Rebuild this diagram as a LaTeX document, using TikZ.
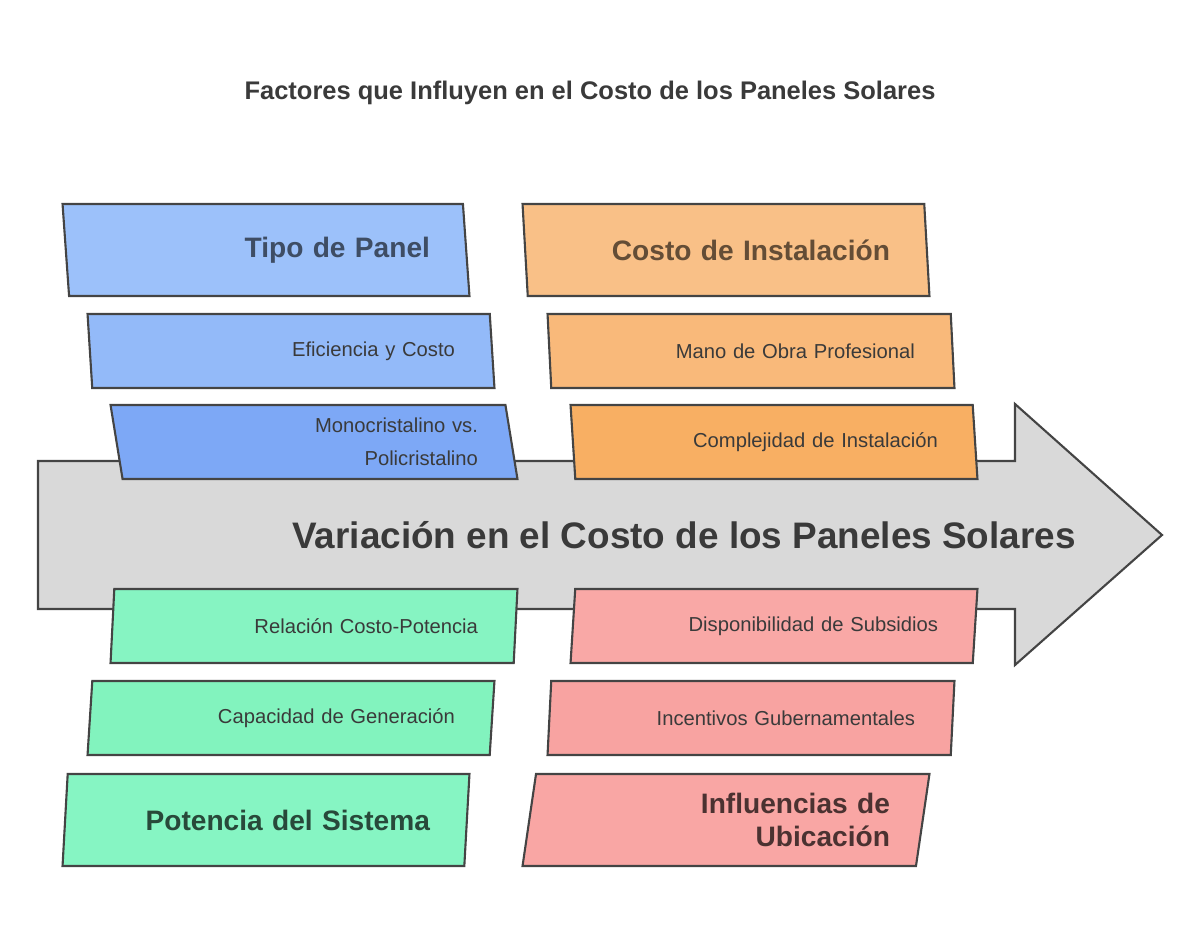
\documentclass[tikz,border=0pt]{standalone}
\usepackage{fontspec}
\setmainfont{Liberation Sans}
\usetikzlibrary{shapes.geometric, positioning}
\definecolor{BlueA}{HTML}{9CC1FA}
\definecolor{BlueB}{HTML}{93BAF9}
\definecolor{BlueC}{HTML}{7DA8F6}
\definecolor{OrangeA}{HTML}{F9C087}
\definecolor{OrangeB}{HTML}{F9B97A}
\definecolor{OrangeC}{HTML}{F8AF63}
\definecolor{GreenA}{HTML}{86F4C2}
\definecolor{GreenB}{HTML}{82F3BE}
\definecolor{GreenC}{HTML}{86F5C3}
\definecolor{RedA}{HTML}{F9A8A6}
\definecolor{RedB}{HTML}{F8A3A1}
\definecolor{RedC}{HTML}{F9A6A4}
\definecolor{LineGray}{HTML}{444444}
\definecolor{TextGray}{HTML}{3A3A3A}
\tikzset{
  slab/.style={draw=LineGray, line width=1.2pt, trapezium, trapezium stretches body,
    minimum width=8.14cm, inner sep=0pt, text width=6.56cm, align=right, text=TextGray},
  up/.style={slab, trapezium left angle=104, trapezium right angle=76},
  down/.style={slab, trapezium left angle=76, trapezium right angle=104},
  head/.style={minimum height=1.84cm, font=\fontsize{16}{19}\selectfont\bfseries},
  item/.style={minimum height=1.48cm, font=\fontsize{11.5}{14}\selectfont},
}
\begin{document}
\begin{tikzpicture}[x=0.02cm, y=-0.02cm]
\useasboundingbox (0,0) rectangle (1200,942);
\node[font=\fontsize{14.5}{17}\selectfont\bfseries, text=TextGray] (title) at (590,93) {Factores que Influyen en el Costo de los Paneles Solares};
% big arrow
\draw[draw=LineGray, fill=black!15, line width=1.2pt] (38,461) -- (1015,461) -- (1015,404) -- (1162,535) -- (1015,665) -- (1015,609) -- (38,609) -- cycle;
\node[font=\fontsize{21}{25}\selectfont\bfseries, text=TextGray] (main) at (684,535) {Variación en el Costo de los Paneles Solares};
% upper left
\node[up, head, fill=BlueA, text=BlueA!40!black] (panel) at (266,250) {Tipo de Panel};
\node[up, item, fill=BlueB] (efic) at (291,351) {Eficiencia y Costo};
\node[up, item, fill=BlueC, font=\fontsize{11.5}{19}\selectfont] (mono) at (314,442) {Monocristalino vs.\\Policristalino};
% upper right
\node[up, head, fill=OrangeA, text=OrangeA!40!black] (inst) at (726,250) {Costo de Instalación};
\node[up, item, fill=OrangeB] (mano) at (751,351) {Mano de Obra Profesional};
\node[up, item, fill=OrangeC] (comp) at (774,442) {Complejidad de Instalación};
% lower left
\node[down, item, fill=GreenA] (rel) at (314,626) {Relación Costo-Potencia};
\node[down, item, fill=GreenB] (cap) at (291,718) {Capacidad de Generación};
\node[down, head, fill=GreenC, text=GreenC!30!black] (pot) at (266,820) {Potencia del Sistema};
% lower right
\node[down, item, fill=RedA] (disp) at (774,626) {Disponibilidad de Subsidios};
\node[down, item, fill=RedB] (inc) at (751,718) {Incentivos Gubernamentales};
\node[down, head, fill=RedC, text=RedC!30!black, font=\fontsize{16}{19}\selectfont\bfseries] (ubic) at (726,820) {Influencias de\\Ubicación};
\end{tikzpicture}
\end{document}
